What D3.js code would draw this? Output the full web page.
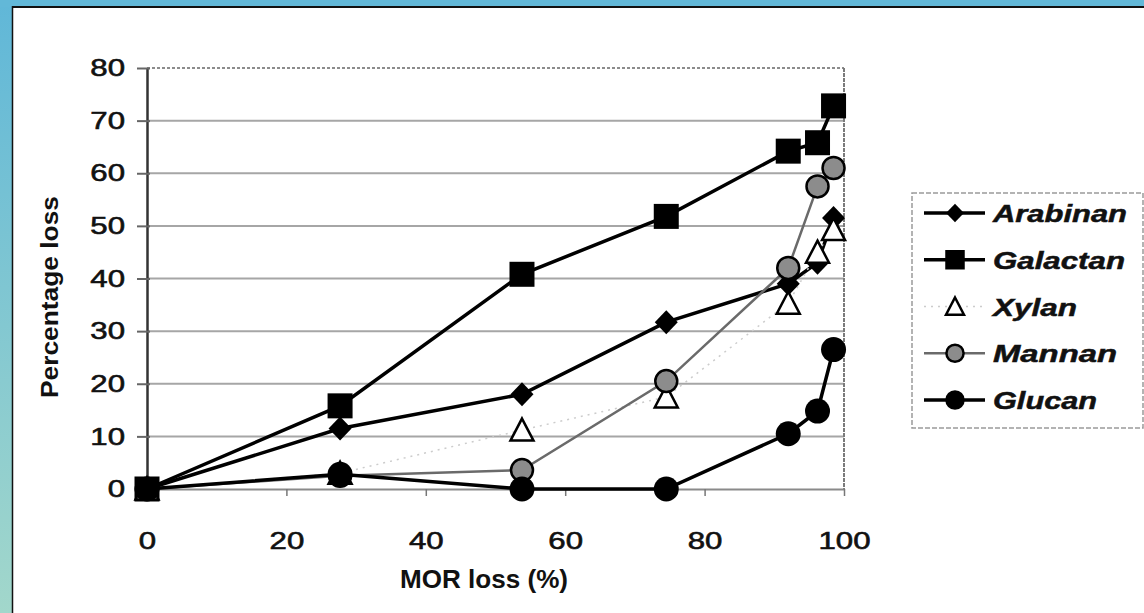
<!DOCTYPE html>
<html><head><meta charset="utf-8">
<script src="https://cdn.jsdelivr.net/npm/d3@7/dist/d3.min.js"></script>
<style>
html,body{margin:0;padding:0;background:#fff;}
svg{display:block;font-family:Arial,"Liberation Sans",sans-serif;}
</style></head>
<body>
<svg id="chart" width="1144" height="613"></svg>
<script>
// ---- data ----
const morLoss   = [0, 27.7, 53.8, 74.5, 92.0, 96.2, 98.5];
const arabinan  = [0, 11.5, 18.0, 31.7, 39.0, 43.0, 51.5];
const galactan  = [0, 15.8, 40.8, 51.8, 64.2, 65.8, 72.8];
const xylan     = [0, 3.0, 11.2, 17.5, 35.3, 45.0, 49.3];
const mannan    = [0, 2.5, 3.6, 20.5, 42.0, 57.5, 61.0];
const glucan    = [0, 2.8, 0, 0, 10.5, 14.8, 26.5];
const seriesNames = ["Arabinan", "Galactan", "Xylan", "Mannan", "Glucan"];
const xTicks = [0, 20, 40, 60, 80, 100];
const yTicks = [0, 10, 20, 30, 40, 50, 60, 70, 80];
const xTitle = "MOR loss (%)";
const yTitle = "Percentage loss";

const svg = d3.select("#chart");

// ---- frame ----
const defs = svg.append("defs");
const grad = defs.append("linearGradient").attr("id","blueg").attr("x1",0).attr("y1",0).attr("x2",0).attr("y2",1);
grad.append("stop").attr("offset","0%").attr("stop-color","#60b7d8");
grad.append("stop").attr("offset","100%").attr("stop-color","#a2d7cb");
svg.append("rect").attr("x",0).attr("y",0).attr("width",1144).attr("height",613).attr("fill","url(#blueg)");
svg.append("rect").attr("x",0).attr("y",0).attr("width",1144).attr("height",7).attr("fill","#62b8d8");
svg.append("rect").attr("x",13).attr("y",8).attr("width",1131).attr("height",605).attr("fill","#fff");
svg.append("line").attr("x1",12).attr("x2",1144).attr("y1",7).attr("y2",7).attr("stroke","#111").attr("stroke-width",2);
svg.append("line").attr("x1",12.5).attr("x2",12.5).attr("y1",6).attr("y2",613).attr("stroke","#111").attr("stroke-width",1.5);

// ---- scales ----
const x = d3.scaleLinear().domain([0,100]).range([147,844]);
const y = d3.scaleLinear().domain([0,80]).range([489,68]);
const SX = 1.3;

// gridlines
svg.append("g").selectAll("line").data(yTicks.filter(t=>t>0 && t<80)).join("line")
  .attr("x1",x(0)).attr("x2",x(100)).attr("y1",d=>y(d)).attr("y2",d=>y(d))
  .attr("stroke","#a6a6a6").attr("stroke-width",2);
// top border (dotted) & right border
svg.append("line").attr("x1",x(0)).attr("x2",x(100)).attr("y1",y(80)).attr("y2",y(80))
  .attr("stroke","#8c8c8c").attr("stroke-width",2).attr("stroke-dasharray","3,2");
svg.append("line").attr("x1",x(100)).attr("x2",x(100)).attr("y1",y(80)).attr("y2",y(0))
  .attr("stroke","#7a7a7a").attr("stroke-width",2).attr("stroke-dasharray","4,1");

// x axis
const xAxis = svg.append("g").attr("transform",`translate(0,${y(0)})`)
  .call(d3.axisBottom(x).tickValues(xTicks).tickSize(7).tickSizeOuter(0).tickFormat(d3.format("d")));
xAxis.select(".domain").attr("stroke","#8a8a8a").attr("stroke-width",2);
xAxis.selectAll(".tick line").attr("stroke","#777").attr("stroke-width",1.5);
xAxis.selectAll(".tick text").attr("font-size",24).attr("fill","#111")
  .attr("stroke","#111").attr("stroke-width",0.6)
  .attr("y",43).attr("dy","0.71em").attr("transform",`scale(${SX},1)`);

// y axis
const yAxis = svg.append("g").attr("transform",`translate(${x(0)},0)`)
  .call(d3.axisLeft(y).tickValues(yTicks).tickSize(10).tickSizeOuter(0).tickFormat(d3.format("d")));
yAxis.select(".domain").attr("stroke","#333").attr("stroke-width",2.5);
yAxis.selectAll(".tick line").attr("stroke","#666").attr("stroke-width",2).attr("x2",-10).attr("x1",3);
yAxis.selectAll(".tick text").attr("font-size",24).attr("fill","#111")
  .attr("stroke","#111").attr("stroke-width",0.6)
  .attr("x",-22/SX).attr("transform",`scale(${SX},1)`);

// titles
svg.append("text").attr("x",484).attr("y",588).attr("text-anchor","middle")
  .attr("font-size",26).attr("font-weight","bold").attr("fill","#111")
  .attr("textLength",168).attr("lengthAdjust","spacingAndGlyphs").text(xTitle);
svg.append("text").attr("transform","translate(58,297) rotate(-90)").attr("text-anchor","middle")
  .attr("font-size",24).attr("font-weight","bold").attr("fill","#111")
  .attr("textLength",202).attr("lengthAdjust","spacingAndGlyphs").text(yTitle);

// ---- series ----
const styles = {
  Arabinan:{vals:arabinan, stroke:"#000", width:3.5, dash:null, marker:"diamond"},
  Galactan:{vals:galactan, stroke:"#000", width:3.5, dash:null, marker:"square"},
  Xylan:{vals:xylan, stroke:"#cccccc", width:1.5, dash:"2,5", marker:"triangle"},
  Mannan:{vals:mannan, stroke:"#6a6a6a", width:2.5, dash:null, marker:"mcircle"},
  Glucan:{vals:glucan, stroke:"#000", width:3.5, dash:null, marker:"circle"}
};
function drawMarker(g, kind, cx, cy, s){
  if(kind==="square"){
    g.append("rect").attr("x",cx-12.5*s).attr("y",cy-12.5*s).attr("width",25*s).attr("height",25*s).attr("fill","#000");
  } else if(kind==="diamond"){
    g.append("path").attr("d",`M${cx},${cy-12*s}L${cx+11.5*s},${cy}L${cx},${cy+12*s}L${cx-11.5*s},${cy}Z`).attr("fill","#000");
  } else if(kind==="triangle"){
    g.append("path").attr("d",`M${cx},${cy-11.5*s}L${cx+11.5*s},${cy+10.5*s}L${cx-11.5*s},${cy+10.5*s}Z`)
      .attr("fill","#fff").attr("stroke","#000").attr("stroke-width",2.5).attr("stroke-linejoin","miter");
  } else if(kind==="mcircle"){
    g.append("circle").attr("cx",cx).attr("cy",cy).attr("r",11*s).attr("fill","#8c8c8c").attr("stroke","#000").attr("stroke-width",2.5);
  } else if(kind==="circle"){
    g.append("circle").attr("cx",cx).attr("cy",cy).attr("r",12.5*s).attr("fill","#000");
  }
}
const line = d3.line().x(d=>x(d[0])).y(d=>y(d[1]));
const linesG = svg.append("g");
const marksG = svg.append("g");
seriesNames.forEach(name=>{
  const st = styles[name];
  const pts = morLoss.map((m,i)=>[m, st.vals[i]]);
  linesG.append("path").attr("d",line(pts)).attr("fill","none").attr("stroke",st.stroke)
    .attr("stroke-width",st.width).attr("stroke-dasharray",st.dash);
});
seriesNames.forEach(name=>{
  const st = styles[name];
  morLoss.forEach((m,i)=>drawMarker(marksG, st.marker, x(m), y(st.vals[i]), 1));
});

// ---- legend ----
svg.append("rect").attr("x",912).attr("y",193).attr("width",231).attr("height",235)
  .attr("fill","#fff").attr("stroke","#9a9a9a").attr("stroke-width",1.5).attr("stroke-dasharray","5,2");
const legY = d3.scalePoint().domain(seriesNames).range([213,400]);
const legW = {Arabinan:134, Galactan:132, Xylan:84, Mannan:124, Glucan:104};
seriesNames.forEach(name=>{
  const st = styles[name];
  const ly = legY(name);
  svg.append("line").attr("x1",924).attr("x2",985).attr("y1",ly).attr("y2",ly)
    .attr("stroke",st.stroke).attr("stroke-width",st.width).attr("stroke-dasharray",st.dash);
  drawMarker(svg, st.marker, 955, ly, 0.78);
  svg.append("text").attr("x",993).attr("y",ly+9).attr("font-size",24)
    .attr("font-weight","bold").attr("font-style","italic").attr("fill","#111")
    .attr("stroke","#111").attr("stroke-width",0.5)
    .attr("textLength",legW[name]).attr("lengthAdjust","spacingAndGlyphs").text(name);
});
</script>
</body></html>
